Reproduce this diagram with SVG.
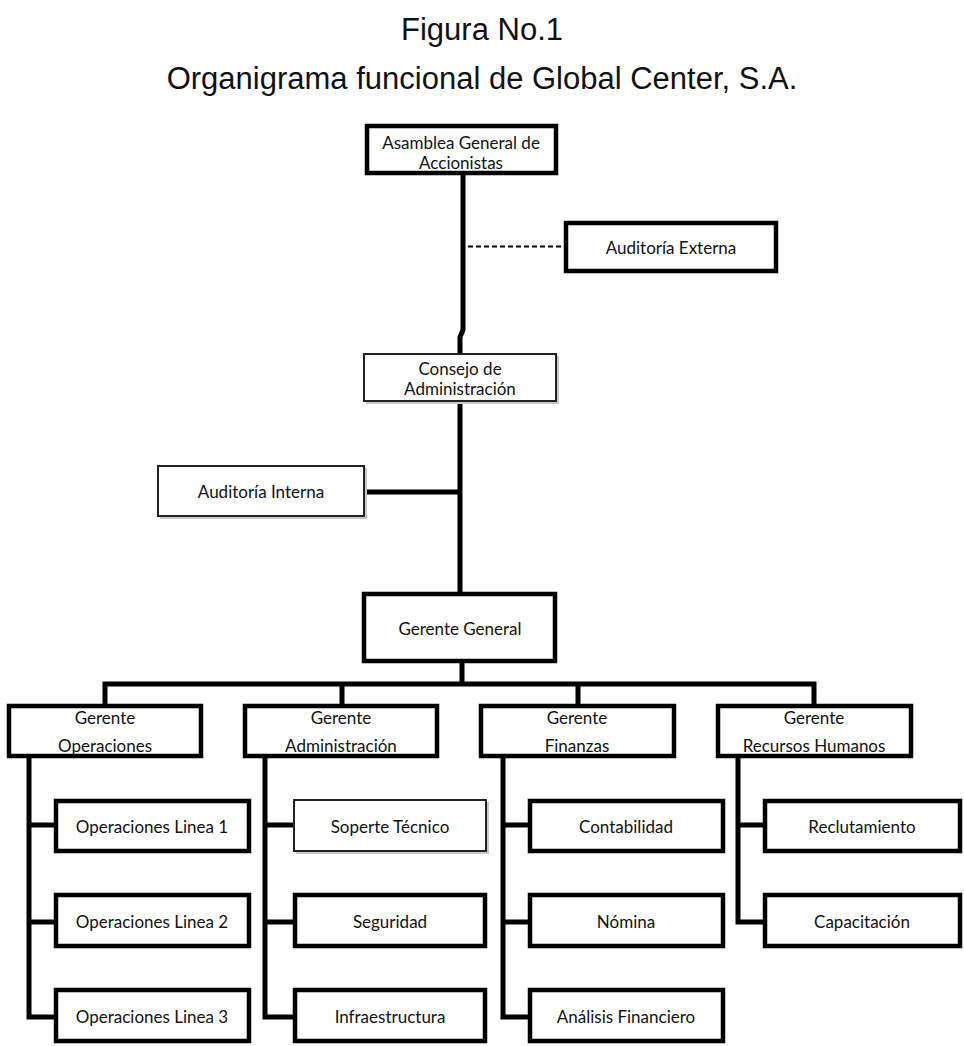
<svg xmlns="http://www.w3.org/2000/svg" width="964" height="1046" viewBox="0 0 964 1046">
<style>
.title{font-family:"Liberation Sans",Arial,sans-serif;font-size:31px;fill:#111;text-anchor:middle}
.t{font-family:Lato,"Open Sans",sans-serif;font-size:17px;fill:#111;text-anchor:middle;dominant-baseline:central}
.bx{fill:#fff;stroke:#000;stroke-width:4.5}
.bt{fill:#fff;stroke:#222;stroke-width:2}
.sh{fill:#c8c8c8}
.c{fill:none;stroke:#000;stroke-width:5;stroke-linejoin:miter}
.d{fill:none;stroke:#000;stroke-width:2;stroke-dasharray:5 3}
</style>
<rect width="964" height="1046" fill="#fff"/>
<text class="title" x="482" y="40">Figura No.1</text>
<text class="title" x="482" y="89">Organigrama funcional de Global Center, S.A.</text>
<g id="connectors">
<path class="c" d="M463 175 V330 L460 337 V353"/>
<path class="d" d="M468 246.5 H564"/>
<path class="c" d="M460 402 V592"/>
<path class="c" d="M365 492 H460"/>
<path class="c" d="M462 663 V684"/>
<path class="c" d="M105 704 V684 H814 V704 M342 684 V704 M578 684 V704"/>
<path class="c" d="M29 758 V1017 H56 M29 825 H56 M29 922 H56"/>
<path class="c" d="M265 758 V1017 H293 M265 825 H293 M265 922 H293"/>
<path class="c" d="M503 758 V1017 H528 M503 825 H528 M503 922 H528"/>
<path class="c" d="M738 758 V922 H763 M738 825 H763"/>
</g>
<g id="asamblea"><rect class="bx" x="367" y="126" width="189" height="47"/><text class="t" x="461" y="142">Asamblea General de</text><text class="t" x="461" y="162">Accionistas</text></g>
<g id="auditoria-externa"><rect class="bx" x="566" y="223" width="210" height="48"/><text class="t" x="671" y="247">Auditoría Externa</text></g>
<g id="consejo"><rect class="sh" x="366" y="356" width="193" height="48"/><rect class="bt" x="364" y="354" width="192" height="47"/><text class="t" x="460" y="368">Consejo de</text><text class="t" x="460" y="388">Administración</text></g>
<g id="auditoria-interna"><rect class="sh" x="160" y="468" width="207" height="51"/><rect class="bt" x="158" y="466" width="206" height="50"/><text class="t" x="261" y="491">Auditoría Interna</text></g>
<g id="gerente-general"><rect class="bx" x="364" y="594" width="191" height="67"/><text class="t" x="460" y="628">Gerente General</text></g>
<g id="g-operaciones"><rect class="bx" x="9" y="706" width="192" height="50"/><text class="t" x="105" y="717">Gerente</text><text class="t" x="105" y="745">Operaciones</text></g>
<g id="g-administracion"><rect class="bx" x="245" y="706" width="192" height="50"/><text class="t" x="341" y="717">Gerente</text><text class="t" x="341" y="745">Administración</text></g>
<g id="g-finanzas"><rect class="bx" x="481" y="706" width="193" height="50"/><text class="t" x="577" y="717">Gerente</text><text class="t" x="577" y="745">Finanzas</text></g>
<g id="g-rrhh"><rect class="bx" x="718" y="706" width="193" height="50"/><text class="t" x="814" y="717">Gerente</text><text class="t" x="814" y="745">Recursos Humanos</text></g>
<g id="op1"><rect class="bx" x="56" y="801" width="193" height="50"/><text class="t" x="152" y="826">Operaciones Linea 1</text></g>
<g id="op2"><rect class="bx" x="56" y="895" width="193" height="51"/><text class="t" x="152" y="921">Operaciones Linea 2</text></g>
<g id="op3"><rect class="bx" x="56" y="990" width="193" height="51"/><text class="t" x="152" y="1016">Operaciones Linea 3</text></g>
<g id="soporte"><rect class="sh" x="296" y="802" width="193" height="52"/><rect class="bt" x="294" y="800" width="192" height="51"/><text class="t" x="390" y="826">Soperte Técnico</text></g>
<g id="seguridad"><rect class="bx" x="295" y="895" width="190" height="51"/><text class="t" x="390" y="921">Seguridad</text></g>
<g id="infraestructura"><rect class="bx" x="295" y="990" width="190" height="51"/><text class="t" x="390" y="1016">Infraestructura</text></g>
<g id="contabilidad"><rect class="bx" x="530" y="801" width="193" height="50"/><text class="t" x="626" y="826">Contabilidad</text></g>
<g id="nomina"><rect class="bx" x="530" y="895" width="193" height="51"/><text class="t" x="626" y="921">Nómina</text></g>
<g id="analisis"><rect class="bx" x="530" y="990" width="193" height="51"/><text class="t" x="626" y="1016">Análisis Financiero</text></g>
<g id="reclutamiento"><rect class="bx" x="765" y="801" width="195" height="50"/><text class="t" x="862" y="826">Reclutamiento</text></g>
<g id="capacitacion"><rect class="bx" x="765" y="895" width="195" height="51"/><text class="t" x="862" y="921">Capacitación</text></g>
</svg>
